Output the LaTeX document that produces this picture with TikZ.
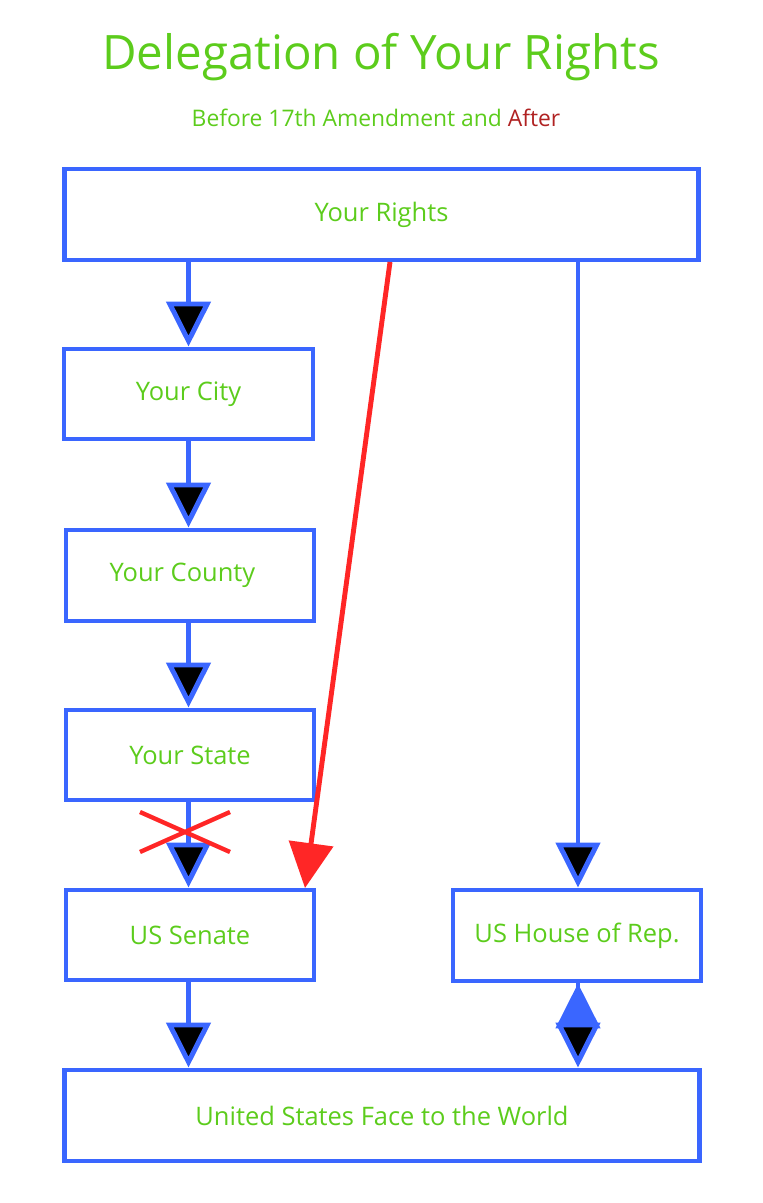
\documentclass[tikz,border=0pt]{standalone}
\usepackage{fontspec}
\setmainfont{Open Sans}
\usetikzlibrary{arrows.meta,positioning}
\definecolor{tgreen}{HTML}{5CCC1C}
\definecolor{tblue}{HTML}{3A66FF}
\definecolor{tred}{HTML}{FF2626}
\definecolor{tdark}{HTML}{B02222}
\tikzset{
>={Triangle[length=0.9cm,width=0.88cm]}, % big arrow heads
every node/.style={text=tgreen,align=center},
box/.style={draw=tblue,line width=2.8pt,font=\fontsize{14.5}{17}\selectfont},
flow/.style={->,draw=tblue,line width=2.8pt},
}
\begin{document}
\begin{tikzpicture}[x=0.02cm,y=-0.02cm]
   \useasboundingbox (0,0) rectangle (763,1203);
   \node[font=\fontsize{27}{32}\selectfont] (title) at (381,57) {Delegation of Your Rights};
   \node[font=\fontsize{13}{16}\selectfont] (sub) at (376,118) {Before 17th Amendment and \textcolor{tdark}{After}};
   \node[box,minimum width=12.7cm,minimum height=1.82cm] (rights) at (381.5,214.5) {Your Rights};
   \node[box,minimum width=4.98cm,minimum height=1.8cm] (city) at (188.5,394) {Your City};
   \node[box,minimum width=4.96cm,minimum height=1.82cm] (county) at (190,575.5) {Your County\hspace*{0.3cm}};
   \node[box,minimum width=4.96cm,minimum height=1.8cm] (state) at (190,755) {Your State};
   \node[box,minimum width=4.96cm,minimum height=1.8cm] (senate) at (190,935) {US Senate};
   \node[box,minimum width=4.96cm,minimum height=1.82cm] (house) at (577,935.5) {US House of Rep.};
   \node[box,minimum width=12.72cm,minimum height=1.82cm] (world) at (382,1115.5) {United States Face to the World};
   \coordinate (rs) at (390,262);
   \coordinate (rh) at (578,262);
   \path[flow]
    (rights.south -| city) edge (city.north)
    (city) edge (county.north -| city)
    (county.south -| city) edge (state.north -| city)
    (state.south -| city) edge (senate.north -| city)
    (senate.south -| city) edge (world.north -| city)
    (rh) edge (house.north -| rh)
    (house.south -| rh) edge (world.north -| rh);
   \draw[->,draw=tred,line width=2.8pt,>={Triangle[length=0.9cm,width=0.88cm,fill=tred]}] (rs) -- (305,888);
   \draw[tred,line width=2.5pt] (140,812) -- (230,852) (140,852) -- (230,812);
\end{tikzpicture}
\end{document}
